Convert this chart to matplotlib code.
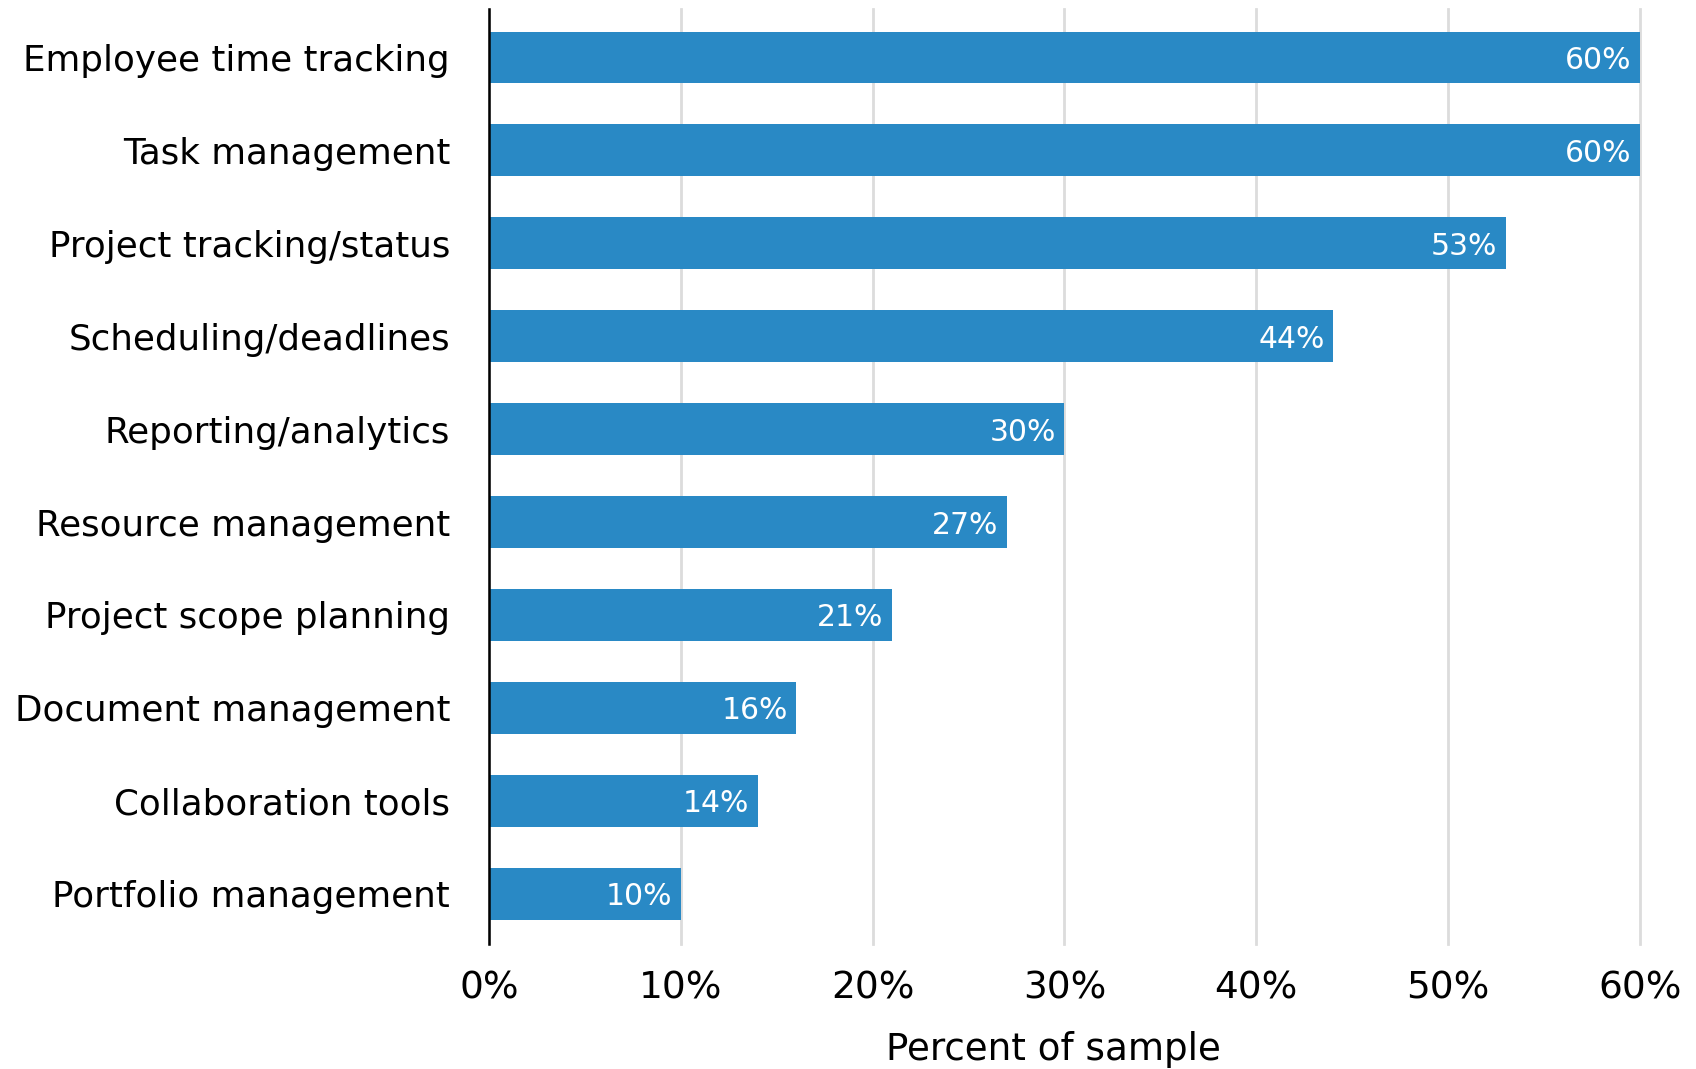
import matplotlib
matplotlib.use("Agg")
import matplotlib.pyplot as plt

### Survey data, top bar first
features = ["Employee time tracking", "Task management", "Project tracking/status",
            "Scheduling/deadlines", "Reporting/analytics", "Resource management",
            "Project scope planning", "Document management", "Collaboration tools",
            "Portfolio management"]
percents = [60, 60, 53, 44, 30, 27, 21, 16, 14, 10]
xticks = [0, 10, 20, 30, 40, 50, 60]

plt.rcParams['font.family'] = ['DejaVu Sans']

fig = plt.figure(figsize=(16.96, 10.69), dpi=100)
ax = fig.add_axes([0.2883, 0.1169, 0.967 - 0.2883, 0.9916 - 0.1169])

ypos = range(len(features))
ax.barh(ypos, percents, height=0.555, color='#2989c5', zorder=2)

for y, v in zip(ypos, percents):
  ax.annotate('%d%%' % v, (v, y), xytext=(-6, 0), textcoords='offset points',
              ha='right', va='center_baseline', color='white', fontsize=21.5, zorder=3)

ax.set_yticks(list(ypos))
ax.set_yticklabels(features, fontsize=25.7)
ax.set_ylim(len(features) - 0.46, -0.52)
ax.set_xlim(0, 60)
ax.set_xticks(xticks)
ax.set_xticklabels(['%d%%' % t for t in xticks], fontsize=27)
ax.set_xlabel("Percent of sample", fontsize=26.8, labelpad=18)
ax.xaxis.label.set_x(0.4906)

ax.tick_params(axis='y', length=0, pad=28)
ax.tick_params(axis='x', length=0, pad=19)
ax.grid(axis='x', color='#dcdcdc', linewidth=2, zorder=0)
ax.set_axisbelow(True)
for side in ['top', 'right', 'bottom']:
  ax.spines[side].set_visible(False)
ax.spines['left'].set_linewidth(1.8)
ax.spines['left'].set_zorder(4)
for line in ax.get_xgridlines():
  line.set_clip_on(False)

fig.savefig('out.png', dpi=100)
